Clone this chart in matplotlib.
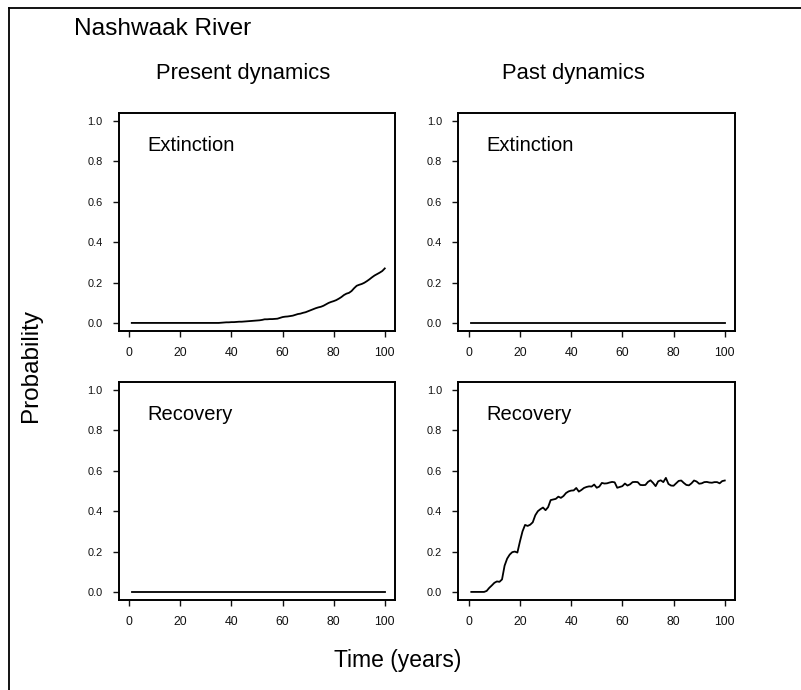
import matplotlib
matplotlib.use("Agg")
import matplotlib.pyplot as plt
from matplotlib.lines import Line2D

plt.rcParams['font.family'] = ['Liberation Sans', 'DejaVu Sans']

# ---- data ---------------------------------------------------------------
years = list(range(1, 101))

present_extinction = (
    [0.0] * 35 +
    [0.001, 0.002, 0.003, 0.003, 0.004, 0.004, 0.005, 0.006, 0.006, 0.007,
     0.008, 0.009, 0.010, 0.011, 0.012, 0.013, 0.015, 0.018, 0.018, 0.019,
     0.019, 0.020, 0.021, 0.025, 0.029, 0.031, 0.032, 0.034, 0.036, 0.040,
     0.044, 0.046, 0.050, 0.053, 0.058, 0.063, 0.068, 0.073, 0.077, 0.080,
     0.085, 0.092, 0.099, 0.104, 0.108, 0.113, 0.120, 0.128, 0.138, 0.145,
     0.149, 0.158, 0.172, 0.184, 0.189, 0.193, 0.199, 0.207, 0.216, 0.226,
     0.235, 0.242, 0.249, 0.257, 0.270]
)
present_recovery = [0.0] * 100
past_extinction = [0.0] * 100
past_recovery = [
    0.0, 0.0, 0.0, 0.0, 0.0, 0.0, 0.005, 0.020, 0.032, 0.045,
    0.052, 0.050, 0.062, 0.130, 0.165, 0.185, 0.197, 0.200, 0.195, 0.250,
    0.300, 0.332, 0.327, 0.333, 0.345, 0.380, 0.400, 0.410, 0.418, 0.405,
    0.420, 0.455, 0.458, 0.461, 0.472, 0.466, 0.475, 0.490, 0.498, 0.502,
    0.503, 0.515, 0.497, 0.505, 0.515, 0.520, 0.523, 0.522, 0.532, 0.516,
    0.522, 0.540, 0.537, 0.538, 0.542, 0.545, 0.543, 0.516, 0.520, 0.524,
    0.537, 0.527, 0.533, 0.544, 0.545, 0.544, 0.530, 0.529, 0.530, 0.545,
    0.553, 0.540, 0.524, 0.548, 0.553, 0.544, 0.565, 0.535, 0.527, 0.526,
    0.538, 0.550, 0.552, 0.540, 0.530, 0.528, 0.538, 0.552, 0.547, 0.536,
    0.538, 0.544, 0.545, 0.542, 0.541, 0.544, 0.544, 0.538, 0.549, 0.552,
]

x_ticks = [0, 20, 40, 60, 80, 100]
y_ticks = [0.0, 0.2, 0.4, 0.6, 0.8, 1.0]
y_tick_labels = ["0.0", "0.2", "0.4", "0.6", "0.8", "1.0"]
row_labels = ["Extinction", "Recovery"]
col_titles = ["Present dynamics", "Past dynamics"]

panels = [
    [present_extinction, past_extinction],
    [present_recovery, past_recovery],
]

# ---- figure -------------------------------------------------------------
W, H = 801, 690
fig = plt.figure(figsize=(W / 100, H / 100), dpi=100)

def px_rect(left, top, right, bottom):
    return [left / W, 1 - bottom / H, (right - left) / W, (bottom - top) / H]

col_lr = [(119, 395), (458.5, 735)]
row_tb = [(113, 331), (382, 600)]

for r in range(2):
    for c in range(2):
        l, rr = col_lr[c]
        t, b = row_tb[r]
        ax = fig.add_axes(px_rect(l, t, rr, b))
        ax.plot(years, panels[r][c], color='black', lw=1.3)
        ax.set_xlim(-4, 104)
        ax.set_ylim(-0.04, 1.04)
        ax.set_xticks(x_ticks)
        ax.set_xticklabels([str(v) for v in x_ticks])
        ax.set_yticks(y_ticks)
        ax.set_yticklabels(y_tick_labels)
        ax.tick_params(direction='out', length=4.3, width=1.0, color='#111111',
                       labelcolor='#111111', pad=7.5)
        ax.tick_params(axis='x', labelsize=8.8)
        ax.tick_params(axis='y', labelsize=7.9)
        for sp in ax.spines.values():
            sp.set_linewidth(1.4)
            sp.set_color('black')
        ax.text(7, 0.88, row_labels[r], fontsize=14.5, ha='left', va='center')

# titles and outer labels
fig.text(74 / W, 1 - 29 / H, "Nashwaak River", fontsize=17.6,
         ha='left', va='center')
fig.text(243 / W, 1 - 74 / H, col_titles[0], fontsize=15.8,
         ha='center', va='center')
fig.text(573 / W, 1 - 74 / H, col_titles[1], fontsize=15.8,
         ha='center', va='center')
fig.text(398 / W, 1 - 660 / H, "Time (years)", fontsize=16.5,
         ha='center', va='center')
fig.text(31 / W, 1 - 365 / H, "Probability", fontsize=17.5, rotation=90,
         ha='center', va='center')

# outer frame (left and top edges)
fig.add_artist(Line2D([9 / W, 9 / W], [0, 1 - 8 / H], transform=fig.transFigure,
                      color='black', lw=1.3))
fig.add_artist(Line2D([9 / W, 1], [1 - 8 / H, 1 - 8 / H], transform=fig.transFigure,
                      color='black', lw=1.3))

fig.savefig("out.png", dpi=100, facecolor='white')
